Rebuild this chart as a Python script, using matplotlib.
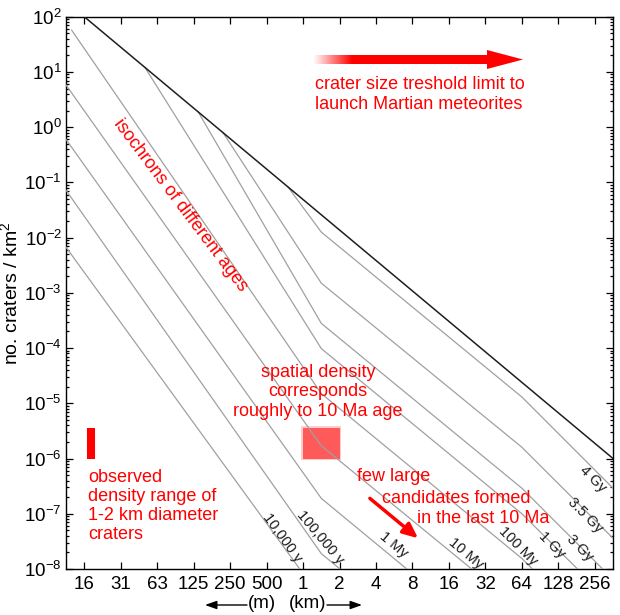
import numpy as np
import matplotlib
matplotlib.use("Agg")
import matplotlib.pyplot as plt
from matplotlib import ticker, transforms
from matplotlib.patches import Rectangle, Polygon

plt.rcParams['font.family'] = ['Liberation Sans', 'DejaVu Sans']
plt.rcParams['mathtext.fontset'] = 'custom'
plt.rcParams['mathtext.rm'] = 'Liberation Sans'
plt.rcParams['mathtext.it'] = 'Liberation Sans:italic'
plt.rcParams['mathtext.bf'] = 'Liberation Sans:bold'

# crater diameter D in km, density in craters / km^2 (vertices)
sat_d = [0.015625, 362.0]
sat_n = [1e2, 1e-6]

d_10ky = [0.01105, 1.414, 64]
n_10ky = [6.7e-3, 2.9e-9, 3.0e-12]
d_100ky = [0.01105, 1.414, 64]
n_100ky = [0.072, 1.9e-8, 1.9e-11]
d_1my = [0.01105, 1.414, 64]
n_1my = [0.6, 1.9e-7, 1.9e-10]
d_10my = [0.01105, 1.414, 64, 362]
n_10my = [5.8, 1.7e-6, 1.8e-9, 4.1e-11]
d_100my = [0.0123, 1.414, 64, 362]
n_100my = [57, 1.5e-5, 1.55e-8, 3.5e-10]
d_1gy = [0.0496, 1.414, 64, 362]
n_1gy = [12.0, 9.8e-5, 1.0e-7, 2.3e-9]
d_3gy = [0.136, 1.414, 64, 362]
n_3gy = [1.9, 2.8e-4, 2.9e-7, 6.5e-9]
d_35gy = [0.218, 1.414, 64, 362]
n_35gy = [0.80, 1.5e-3, 1.6e-6, 3.6e-8]
d_4gy = [0.749, 1.414, 64, 362]
n_4gy = [0.083, 0.0126, 1.3e-5, 2.9e-7]

age_labels = ["10,000 y", "100,000 y", "1 My", "10 My", "100 My",
              "1 Gy", "3 Gy", "3.5 Gy", "4 Gy"]

# observed density range of 1-2 km craters
obs_d = [1.0, 2.0]
obs_n = [1e-6, 3.6e-6]

tick_pos = [2.0 ** k for k in range(-6, 9)]
tick_text = ["16", "31", "63", "125", "250", "500", "1", "2", "4", "8",
             "16", "32", "64", "128", "256"]

iso_d = [d_10ky, d_100ky, d_1my, d_10my, d_100my, d_1gy, d_3gy, d_35gy, d_4gy]
iso_n = [n_10ky, n_100ky, n_1my, n_10my, n_100my, n_1gy, n_3gy, n_35gy, n_4gy]

# where the age labels sit
lab_d = [0.68, 1.38, 5.6, 22, 59, 113, 192, 215, 245]
lab_n = [3.7e-8, 3.7e-8, 2.7e-8, 1.9e-8, 2.6e-8, 2.7e-8, 2.4e-8, 9.4e-8, 4.3e-7]
lab_rot = [-54, -50, -40, -40, -45, -45, -45, -45, -45]

fig = plt.figure(figsize=(6.2, 6.15), dpi=100)
ax = fig.add_axes([0.1065, 0.0748, 0.8823, 0.8980])
ax.set_xscale('log', base=2)
ax.set_yscale('log')
ax.set_xlim(2 ** -6.5, 2 ** 8.5)
ax.set_ylim(1e-8, 1e2)

for d, n in zip(iso_d, iso_n):
    ax.plot(d, n, color='#a0a0a0', lw=0.9, zorder=3)
ax.plot(sat_d, sat_n, color='#1e1e1e', lw=1.1, zorder=4)

for d, n, s, r in zip(lab_d, lab_n, age_labels, lab_rot):
    ax.text(d, n, s, rotation=r, ha='center', va='center', fontsize=10.5,
            color='#1a1a1a', rotation_mode='anchor', zorder=5)

# red box (1-2 km craters) with a soft edge
ax.add_patch(Rectangle((obs_d[0] * 0.965, obs_n[0] * 0.94),
                       obs_d[1] * 1.035 - obs_d[0] * 0.965,
                       obs_n[1] * 1.06 - obs_n[0] * 0.94,
                       fc='#ff6b6b', ec='none', alpha=0.35, zorder=1))
ax.add_patch(Rectangle((obs_d[0], obs_n[0]), obs_d[1] - obs_d[0],
                       obs_n[1] - obs_n[0], fc='#ff5a5a', ec='none', zorder=2))

# legend-like bar on the left
bt = transforms.blended_transform_factory(ax.transAxes, ax.transData)
ax.plot([0.0457, 0.0457], obs_n, transform=bt, color='#ff0000', lw=5.8,
        solid_capstyle='butt', zorder=5)

red = '#ff0000'
fs = 13
ax.text(0.455, 0.859, "crater size treshold limit to\nlaunch Martian meteorites",
        transform=ax.transAxes, color=red, fontsize=fs, ha='left', va='center',
        linespacing=1.25)
ax.text(0.2084, 0.659, "isochrons of different ages", transform=ax.transAxes,
        color=red, fontsize=fs, rotation=-53, ha='center', va='center',
        rotation_mode='anchor')
ax.text(0.4607, 0.3211, "spatial density\ncorresponds\nroughly to 10 Ma age",
        transform=ax.transAxes, color=red, fontsize=fs, ha='center',
        va='center', linespacing=1.18)
ax.text(0.0402, 0.1141, "observed\ndensity range of\n1-2 km diameter\ncraters",
        transform=ax.transAxes, color=red, fontsize=fs, ha='left',
        va='center', linespacing=1.16)
ax.text(0.5314, 0.1671, "few large", transform=ax.transAxes, color=red,
        fontsize=fs, ha='left', va='center')
ax.text(0.5771, 0.1280, "candidates formed", transform=ax.transAxes, color=red,
        fontsize=fs, ha='left', va='center')
ax.text(0.6411, 0.0918, "in the last 10 Ma", transform=ax.transAxes, color=red,
        fontsize=fs, ha='left', va='center')

ax.annotate('', xy=(8.9, 3.6e-8), xytext=(3.56, 1.9e-7),
            arrowprops=dict(arrowstyle='-|>,head_length=0.9,head_width=0.4',
                            color=red, lw=2.5, shrinkA=0, shrinkB=0))

# gradient arrow at the top, drawn on an overlay in pixel units
ov = fig.add_axes([0, 0, 1, 1], zorder=6)
ov.set_xlim(0, 620)
ov.set_ylim(615, 0)
ov.axis('off')
ov.patch.set_alpha(0)
ramp = np.clip(np.linspace(0, 1, 200) / 0.22, 0, 1)
grad = np.zeros((1, 200, 4))
grad[..., 0] = 1.0
grad[..., 3] = ramp
ov.imshow(grad, extent=[313, 489, 64, 55], aspect='auto', interpolation='bilinear')
ov.add_patch(Polygon([[487, 50], [523, 59.5], [487, 69]], closed=True, fc=red, ec='none'))

# (m) / (km) arrows below the axis
ov.text(262, 604, "(m)", fontsize=13.5, ha='center', va='center')
ov.text(308, 604, "(km)", fontsize=13.5, ha='center', va='center')
ov.annotate('', xy=(205, 605), xytext=(247, 605),
            arrowprops=dict(arrowstyle='-|>,head_length=0.7,head_width=0.25',
                            color='black', lw=1.0, shrinkA=0, shrinkB=0))
ov.annotate('', xy=(362, 605), xytext=(327, 605),
            arrowprops=dict(arrowstyle='-|>,head_length=0.7,head_width=0.25',
                            color='black', lw=1.0, shrinkA=0, shrinkB=0))

ax.xaxis.set_major_locator(ticker.FixedLocator(tick_pos))
ax.xaxis.set_major_formatter(ticker.FixedFormatter(tick_text))
ax.xaxis.set_minor_locator(ticker.NullLocator())
ax.yaxis.set_major_locator(ticker.LogLocator(base=10, numticks=20))
ax.yaxis.set_minor_locator(ticker.LogLocator(base=10, subs=np.arange(2, 10), numticks=20))
ax.yaxis.set_minor_formatter(ticker.NullFormatter())
ax.tick_params(which='both', direction='in', top=True, right=True, width=0.9)
ax.tick_params(which='major', length=5)
ax.tick_params(which='minor', length=2.5)
ax.tick_params(axis='x', labelsize=13.5, pad=5)
ax.tick_params(axis='y', labelsize=13.5, pad=3)
for sp in ax.spines.values():
    sp.set_linewidth(1.0)
ax.set_ylabel("no. craters / km$^2$", fontsize=14)
ax.yaxis.set_label_coords(-0.082, 0.5)

fig.savefig("out.png", dpi=100)
